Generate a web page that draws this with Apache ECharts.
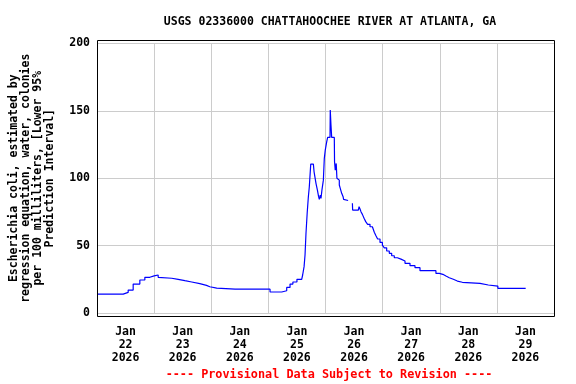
<!DOCTYPE html>
<html><head><meta charset="utf-8">
<script src="https://cdn.jsdelivr.net/npm/echarts@6/dist/echarts.min.js"></script>
<style>html,body{margin:0;padding:0;background:#fff}#c{width:576px;height:384px}</style>
</head><body><div id="c"></div>
<script>
const titleText = 'USGS 02336000 CHATTAHOOCHEE RIVER AT ATLANTA, GA';
const footerText = '---- Provisional Data Subject to Revision ----';
const yAxisTitleLines = [
  'Escherichia coli, estimated by',
  'regression equation, water, colonies',
  'per 100 milliliters, [Lower 95%',
  'Prediction Interval]'
];
const labelMonth = 'Jan';
const labelYear = '2026';
const dayLabels = ['22', '23', '24', '25', '26', '27', '28', '29'];
const yTicks = [0, 50, 100, 150, 200];
// hours since Jan 22 00:00
const hours = [0, 11.0, 13.1, 15.2, 18.0, 20.1, 22.2, 24.0, 25.7, 26.5, 31.4, 34.1, 36.9, 39.8, 43.2, 46.0, 47.4, 50.3,
  58.0, 58.4, 63.0, 63.4, 72.7, 77.6, 79.7, 81.1, 82.3, 84.0, 86.0, 86.4, 87.0, 87.4, 87.8, 88.3, 88.8, 89.2, 89.8,
  90.9, 91.2, 92.0, 92.6, 93.1, 93.4, 93.8, 94.1, 94.5, 95.1, 95.5, 95.9, 96.5, 96.9, 97.9, 98.0, 98.3, 98.6, 99.7,
  99.8, 100.1, 100.5, 100.8, 101.4, 101.8, 102.2, 102.8, 103.4, 103.6, 103.9, 105.5,
  107.3, 107.4, 108.4, 108.8, 109.2, 109.8, 110.1, 110.5, 110.9, 111.5, 112.2, 112.9, 113.7, 114.7, 115.7, 116.5,
  117.2, 117.9, 118.9, 119.9, 120.7, 121.7, 122.8, 123.8, 124.9, 126.2, 127.7, 129.4, 131.5, 133.6, 135.7,
  142.4, 143.8, 145.3, 146.6, 148.0, 149.7, 151.4, 153.5, 160.9, 164.4, 168.4, 180.1];
const values = [14, 15.3, 17, 21.5, 24.5, 26.5, 27.5, 28.2, 26.5, 25.8, 25, 24, 23, 21.8, 20.5, 19.5, 18.5, 17.7,
  17.2, 17.7, 17.2, 17.7, 15.6, 16.5, 19, 21.5, 23, 25, 26, 28.2, 34.4, 43, 59, 74, 86.3, 93.7, 110.5,
  110.5, 104.8, 96.2, 91.2, 86.3, 84.3, 87.5, 85, 91.2, 98.6, 114.8, 120.9, 127, 130.3, 130.3, 150.6, 139.5, 130.3, 130.3,
  112.2, 106, 111, 100, 98.6, 95, 92.5, 88.8, 86.3, 84.3, 83.5, null,
  81.4, 76.4, 76.4, 75.2, 76.4, 75.7, 78.9, 77.2, 75.2, 73.2, 70.3, 67.8, 65.8, 64, 62.8, 59.9,
  57.3, 54.9, 52.4, 50.4, 48.4, 46, 44.3, 42.5, 41, 40, 38.6, 36.9, 35.1, 33.6, 31.4,
  29.4, 28.7, 27.4, 26.2, 25, 23.7, 22.8, 22, 20.8, 20, 18.3, 18.3];

const FONT = 'DejaVu Sans Mono';
const chart = echarts.init(document.getElementById('c'), null, {renderer: 'canvas'});
const seriesData = hours.map((h, i) => [h, values[i]]);
const labelPositions = dayLabels.map((d, i) => 12 + 24 * i);

chart.setOption({
  animation: false,
  backgroundColor: '#ffffff',
  title: [
    {text: titleText, left: 325, top: 11, textAlign: 'center',
     textStyle: {fontFamily: FONT, fontWeight: 'bold', fontSize: 11.5, color: '#000'}},
    {text: footerText, left: 324, top: 364, textAlign: 'center',
     textStyle: {fontFamily: FONT, fontWeight: 'bold', fontSize: 11.8, color: '#ff0000'}}
  ],
  grid: {left: 97, right: 22, top: 43.5, bottom: 71, containLabel: false},
  xAxis: {
    type: 'value', min: 0, max: 192, interval: 24,
    axisLine: {show: false}, axisTick: {show: false},
    splitLine: {show: true, lineStyle: {color: '#cccccc', width: 1}},
    axisLabel: {
      customValues: labelPositions,
      margin: 13,
      fontFamily: FONT, fontWeight: 'bold', fontSize: 11.5, color: '#000', lineHeight: 12.8,
      formatter: v => {
        const i = Math.round((v - 12) / 24);
        return labelMonth + '\n' + dayLabels[i] + '\n' + labelYear;
      }
    }
  },
  yAxis: {
    type: 'value', min: yTicks[0], max: yTicks[yTicks.length - 1], interval: yTicks[1] - yTicks[0],
    axisLine: {show: false}, axisTick: {show: false},
    splitLine: {show: true, lineStyle: {color: '#cccccc', width: 1}},
    axisLabel: {margin: 7, fontFamily: FONT, fontWeight: 'bold', fontSize: 11.5, color: '#000'},
    name: yAxisTitleLines.join('\n'),
    nameLocation: 'middle', nameGap: 41, nameRotate: 90,
    nameTextStyle: {fontFamily: FONT, fontWeight: 'bold', fontSize: 11.5, color: '#000', lineHeight: 12}
  },
  series: [{
    type: 'line', data: seriesData, step: 'end', showSymbol: false, connectNulls: false,
    lineStyle: {color: '#0000ff', width: 1.2}, itemStyle: {color: '#0000ff'}
  }],
  graphic: [{
    type: 'rect', z: 100, silent: true,
    shape: {x: 97.5, y: 40.5, width: 457, height: 276},
    style: {fill: 'none', stroke: '#000', lineWidth: 1}
  }]
});
</script></body></html>
